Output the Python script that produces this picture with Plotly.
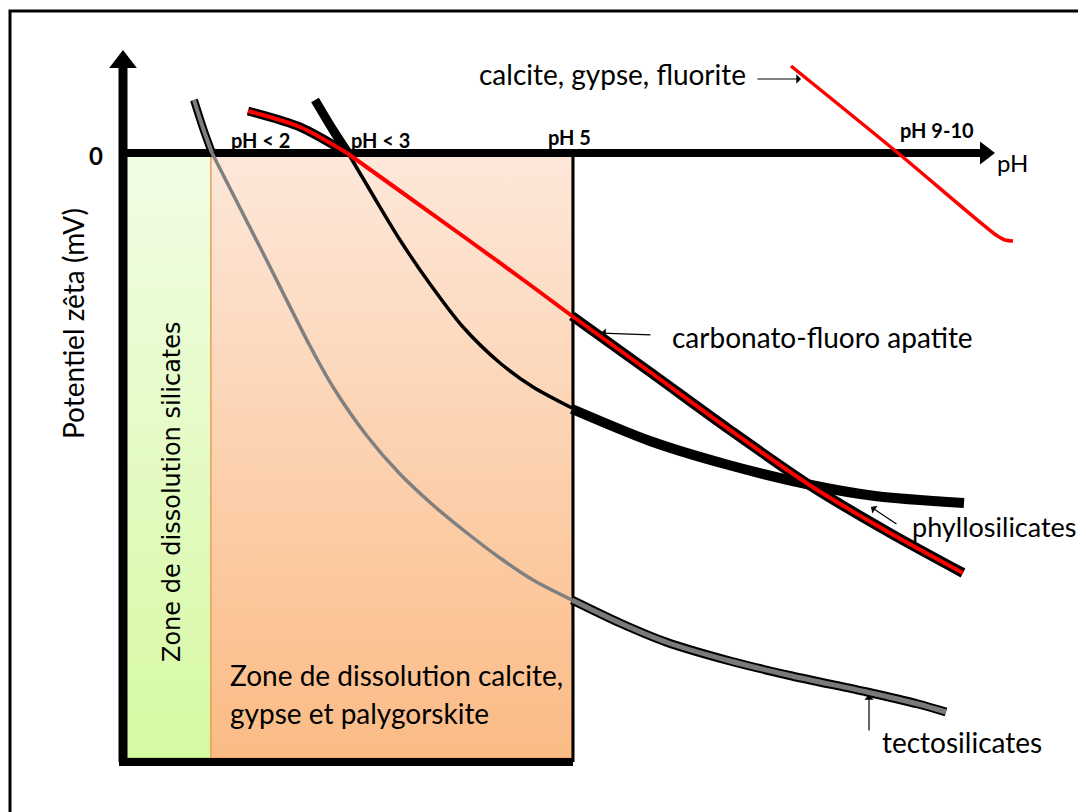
import plotly.graph_objects as go

# schematic units: x = distance along the pH axis from the origin, y = zeta potential (0 on the pH axis)
tecto_top_x = [71, 80, 89]
tecto_top_y = [53, 25, 0]
tecto_in_x = [89, 140, 187, 210, 244, 277, 310, 344, 377, 410, 449]
tecto_in_y = [0, -100, -193, -234, -283, -321, -352, -380, -405, -427, -447]
tecto_out_x = [449, 497, 543, 607, 669, 744, 795, 823]
tecto_out_y = [-447, -470, -489, -508, -523, -539, -551, -559]

phyllo_top_x = [192, 210, 225]
phyllo_top_y = [53, 23, 0]
phyllo_in_x = [225, 251, 277, 307, 340, 377, 410, 449]
phyllo_in_y = [0, -44, -87, -131, -174, -210, -234, -255]
phyllo_out_x = [449, 527, 602, 688, 752, 841]
phyllo_out_y = [-256, -288, -311, -332, -343, -350]

apatite_top_x = [125, 177, 224]
apatite_top_y = [42, 26, 0]
apatite_in_x = [224, 277, 344, 410, 449]
apatite_in_y = [0, -38, -86, -134, -163]
apatite_out_x = [449, 527, 607, 688, 767, 840]
apatite_out_y = [-163, -219, -277, -333, -380, -420]

calcite_x = [668, 775, 873, 882, 890]
calcite_y = [87, 0, -82, -87, -88]

# zones (x limits) and depth of the diagram
zone_silicates = [0, 88]
zone_calcite = [88, 449]
zone_bottom = -605

ph_labels = ["pH < 2", "pH < 3", "pH 5", "pH 9-10"]
ph_label_x = [137, 257, 446, 814]
ph_label_y = [13, 13, 16, 23]

fig = go.Figure()


def line(x, y, color, width, shape="spline"):
    fig.add_trace(go.Scatter(x=x, y=y, mode="lines", hoverinfo="skip",
                             line=dict(color=color, width=width, shape=shape, smoothing=0.8)))


def zone(xs, top, bottom):
    fig.add_trace(go.Scatter(
        x=[xs[0], xs[1], xs[1], xs[0], xs[0]], y=[0, 0, zone_bottom, zone_bottom, 0],
        mode="lines", fill="toself", hoverinfo="skip",
        line=dict(width=1.2, color=bottom[1]),
        fillgradient=dict(type="vertical", colorscale=[[0, bottom[0]], [1, top]])))


zone(zone_silicates, "#f1fde6", ("#d6f9a2", "#9bbb59"))
zone(zone_calcite, "#fde8da", ("#fbbb85", "#f79646"))

# axes
line([0, 0], [91, zone_bottom - 4], "black", 9, "linear")
line([-4, 862], [0, 0], "black", 8, "linear")
line([-4, zone_calcite[1] + 1], [zone_bottom - 4, zone_bottom - 4], "black", 8, "linear")
line([zone_calcite[1] + 1, zone_calcite[1] + 1], [0, zone_bottom - 4], "black", 3, "linear")
fig.add_trace(go.Scatter(x=[0], y=[91], mode="markers", hoverinfo="skip",
                         marker=dict(symbol="triangle-up", size=24, color="black")))
fig.add_trace(go.Scatter(x=[862], y=[0], mode="markers", hoverinfo="skip",
                         marker=dict(symbol="triangle-right", size=20, color="black")))

# tectosilicates
line(tecto_top_x, tecto_top_y, "black", 8)
line(tecto_top_x, tecto_top_y, "#7f7f7f", 4)
line(tecto_in_x, tecto_in_y, "#808080", 3.5)
line(tecto_out_x, tecto_out_y, "black", 9)
line(tecto_out_x, tecto_out_y, "#7a7a7a", 5)

# phyllosilicates
line(phyllo_top_x, phyllo_top_y, "black", 9)
line(phyllo_in_x, phyllo_in_y, "black", 3.5)
line(phyllo_out_x, phyllo_out_y, "black", 10)

# carbonato-fluoro apatite
line(apatite_top_x, apatite_top_y, "black", 9)
line(apatite_top_x, apatite_top_y, "#ff0000", 4)
line(apatite_in_x, apatite_in_y, "#ff0000", 4)
line(apatite_out_x, apatite_out_y, "black", 10)
line(apatite_out_x, apatite_out_y, "#ff0000", 4)

# calcite, gypse, fluorite
line(calcite_x, calcite_y, "#ff0000", 3.5)

txt = "Lato, 'Open Sans', sans-serif"
ann = [
    dict(x=-27, y=-2, text="<b>0</b>", font=dict(size=24, family=txt)),
    dict(x=-50, y=-171, text="Potentiel zêta (mV)", textangle=-90, font=dict(size=28, family=txt)),
    dict(x=49, y=-339, text="Zone de dissolution silicates", textangle=-90,
         font=dict(size=24, family="DejaVu Sans")),
    dict(x=105, y=-522, text="Zone de dissolution calcite,", xanchor="left", font=dict(size=28, family=txt)),
    dict(x=105, y=-560, text="gypse et palygorskite", xanchor="left", font=dict(size=28, family=txt)),
    dict(x=889, y=-9, text="pH", font=dict(size=24, family=txt)),
    dict(x=625, y=79, text="calcite, gypse, fluorite", xanchor="right", font=dict(size=28, family=txt)),
    dict(x=547, y=-184, text="carbonato-fluoro apatite", xanchor="left", font=dict(size=28, family=txt)),
    dict(x=787, y=-373, text="phyllosilicates", xanchor="left", font=dict(size=27, family=txt)),
    dict(x=757, y=-589, text="tectosilicates", xanchor="left", font=dict(size=28, family=txt)),
]
for lab, lx, ly in zip(ph_labels, ph_label_x, ph_label_y):
    ann.append(dict(x=lx, y=ly, text="<b>" + lab + "</b>", font=dict(size=20, family=txt)))
for a in ann:
    a.update(showarrow=False, xref="x", yref="y")
    a["font"]["color"] = "black"

arrows = [((633, 74), (678, 74)), ((529, -182), (478, -180)),
          ((775, -372), (748, -354)), ((746, -579), (746, -542))]
for (tx, ty), (hx, hy) in arrows:
    ann.append(dict(x=hx, y=hy, ax=tx, ay=ty, xref="x", yref="y", axref="x", ayref="y",
                    text="", showarrow=True, arrowhead=1, arrowsize=1.3, arrowwidth=1.2,
                    arrowcolor="black"))

# the page body adds an 8px margin, so the figure is 8px smaller than the window
fig.update_layout(
    width=1078, height=804, margin=dict(l=0, r=0, t=0, b=0),
    plot_bgcolor="white", paper_bgcolor="white", showlegend=False,
    annotations=ann,
    xaxis=dict(range=[-115, 963], visible=False, fixedrange=True),
    yaxis=dict(range=[-659, 145], visible=False, fixedrange=True),
    shapes=[dict(type="rect", xref="x", yref="y", x0=-113, y0=142, x1=975, y1=-670,
                 line=dict(color="black", width=3), layer="below")],
)

fig.write_html("out.html")
